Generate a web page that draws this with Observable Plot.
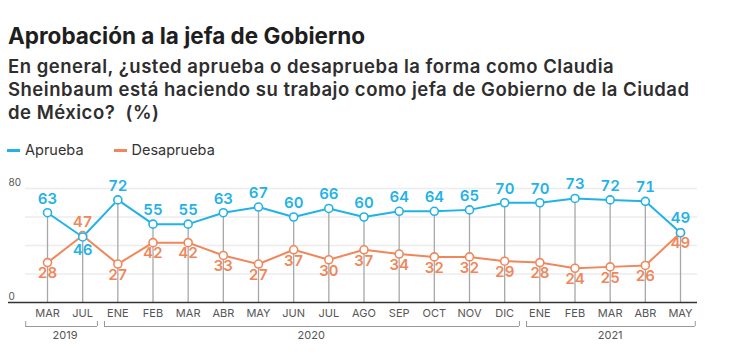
<!DOCTYPE html>
<html>
<head>
<meta charset="utf-8">
<script src="https://cdn.jsdelivr.net/npm/d3@7"></script>
<script src="https://cdn.jsdelivr.net/npm/@observablehq/plot@0.6"></script>
<style>
  body { margin: 0; background: #fff; font-family: Inter, "Open Sans", sans-serif; }
  #wrap { width: 743px; height: 360px; position: relative; overflow: hidden; }
  .title { position: absolute; left: 8px; top: 23px; font-size: 22.5px; line-height: 26px; font-weight: 700; color: #1e1e1e; white-space: nowrap; }
  .subtitle { position: absolute; left: 8px; top: 55px; font-size: 18.5px; line-height: 23px; font-weight: 600; color: #2e2e2e; letter-spacing: 0.5px; white-space: nowrap; }
  .legend { position: absolute; left: 7px; top: 140px; font-size: 14.5px; line-height: 20px; color: #333; display: flex; gap: 30px; }
  .legend span.sw { display: inline-block; width: 13px; height: 3px; vertical-align: middle; margin-right: 5px; position: relative; top: -1px; }
  #chart { position: absolute; left: 0; top: 160px; }
</style>
</head>
<body>
<div id="wrap">
  <div class="title">Aprobación a la jefa de Gobierno</div>
  <div class="subtitle">En general, ¿usted aprueba o desaprueba la forma como Claudia<br>Sheinbaum está haciendo su trabajo como jefa de Gobierno de la Ciudad<br>de México?&nbsp; (%)</div>
  <div class="legend" id="legend"></div>
  <div id="chart"></div>
</div>
<script>
const months = ["MAR","JUL","ENE","FEB","MAR","ABR","MAY","JUN","JUL","AGO","SEP","OCT","NOV","DIC","ENE","FEB","MAR","ABR","MAY"];
const aprueba = [63,46,72,55,55,63,67,60,66,60,64,64,65,70,70,73,72,71,49];
const desaprueba = [28,47,27,42,42,33,27,37,30,37,34,32,32,29,28,24,25,26,49];
const years = ["2019","2020","2021"];
const yearStart = [0,2,14];
const yearEnd = [1,13,18];
const yTicks = [0,80];
const gridVals = [20,40,60,80];
const seriesNames = ["Aprueba","Desaprueba"];

const BLUE = "#22b2e7";
const ORANGE = "#f0875a";

const data = months.map((m, i) => ({i, m, a: aprueba[i], d: desaprueba[i]}));
const yrs = years.map((y, k) => ({y, s: yearStart[k], e: yearEnd[k]}));
const bx1 = (r, k) => k === 0 ? r.s - 0.62 : r.s - 0.38;
const bx2 = r => r.e + 0.42;
const ends = yrs.flatMap((r, k) => [bx1(r, k), bx2(r)]);

document.getElementById("legend").innerHTML = seriesNames.map((n, k) =>
  `<div><span class="sw" style="background:${k ? ORANGE : BLUE}"></span>${n}</div>`).join("");

const labelFont = {fontSize: 15, fontWeight: 600, fontFamily: "Inter, sans-serif"};

const chart = Plot.plot({
  width: 743,
  height: 200,
  marginLeft: 47,
  marginRight: 63,
  marginTop: 28,
  marginBottom: 58,
  x: {type: "linear", domain: [0, months.length - 1], axis: null},
  y: {domain: [0, 80], axis: null},
  style: {fontFamily: "Inter, sans-serif", background: "#fff"},
  marks: [
    Plot.ruleY(gridVals, {stroke: "#ececec", strokeWidth: 1.5, insetLeft: -22, insetRight: -17}),
    Plot.ruleX(data, {x: "i", y1: 0, y2: d => Math.max(d.a, d.d), stroke: "#a8a8a8", strokeWidth: 1.3}),
    Plot.ruleY([0], {stroke: "#333", strokeWidth: 1.6, insetLeft: -39, insetRight: -17}),
    Plot.text(yTicks, {y: d => d, text: d => String(d), frameAnchor: "left", dx: -39, dy: -6, textAnchor: "start", fill: "#555", fontSize: 10}),
    Plot.line(data, {x: "i", y: "d", stroke: ORANGE, strokeWidth: 2}),
    Plot.line(data, {x: "i", y: "a", stroke: BLUE, strokeWidth: 2}),
    Plot.dot(data, {x: "i", y: "d", r: 4, fill: "white", stroke: ORANGE, strokeWidth: 1.6}),
    Plot.dot(data, {x: "i", y: "a", r: 4, fill: "white", stroke: BLUE, strokeWidth: 1.6}),
    Plot.text(data.filter(d => d.a >= d.d), {x: "i", y: "a", text: "a", dy: -14, fill: BLUE, ...labelFont}),
    Plot.text(data.filter(d => d.a < d.d), {x: "i", y: "a", text: "a", dy: 13, fill: BLUE, ...labelFont}),
    Plot.text(data.filter(d => d.d > d.a), {x: "i", y: "d", text: "d", dy: -13, fill: ORANGE, ...labelFont}),
    Plot.text(data.filter(d => d.d <= d.a), {x: "i", y: "d", text: "d", dy: 11, fill: ORANGE, ...labelFont}),
    Plot.text(data, {x: "i", y: 0, text: "m", dy: 11, fill: "#555", fontSize: 11}),
    Plot.ruleY(yrs, {y: 0, x1: bx1, x2: bx2, dy: 24, stroke: "#999", strokeWidth: 1}),
    Plot.ruleX(ends, {x: d => d, y1: 0, y2: 0, insetTop: -5, insetBottom: 0, dy: 24, stroke: "#999", strokeWidth: 1}),
    Plot.text(yrs, {x: r => (r.s + r.e) / 2, y: 0, text: "y", dy: 33, fill: "#555", fontSize: 11})
  ]
});
document.getElementById("chart").appendChild(chart);
</script>
</body>
</html>
